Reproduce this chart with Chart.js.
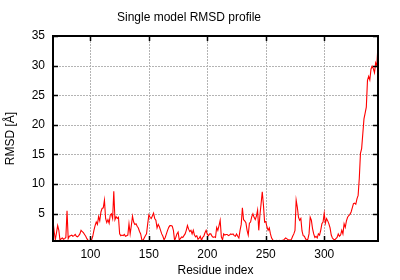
<!DOCTYPE html>
<html>
<head>
<meta charset="utf-8">
<script src="https://cdn.jsdelivr.net/npm/chart.js@4"></script>
<style>
html,body{margin:0;padding:0;background:#fff;}
#wrap{width:400px;height:280px;}
</style>
</head>
<body>
<div id="wrap"><canvas id="c" width="400" height="280"></canvas></div>
<script>
const titleText = "Single model RMSD profile";
const xLabel = "Residue index";
const yLabel = "RMSD [Å]";
const firstResidue = 68;
const xTicks = [100, 150, 200, 250, 300];
const yTicks = [5, 10, 15, 20, 25, 30, 35];
const rmsd = [
  3.8, 2.0, 0.6, 1.8, 3.0, 2.2, 0.5, 0.8, 0.9, 0.7,
  0.8, 1.0, 5.5, 0.8, 1.2, 1.3, 1.4, 1.2, 1.3, 1.5,
  1.2, 1.1, 1.3, 1.6, 2.2, 2.0, 1.8, 1.5, 1.2, 0.8,
  0.5, 0.4, 0.5, 0.6, 1.2, 2.2, 3.0, 3.6, 3.2, 4.5,
  3.8, 5.3, 5.9, 6.0, 7.3, 4.2, 3.5, 4.0, 3.4, 4.8,
  5.0, 4.2, 8.8, 4.0, 4.5, 4.2, 4.4, 1.6, 1.3, 1.4,
  1.3, 1.5, 1.2, 1.3, 1.4, 3.3, 1.6, 3.0, 4.6, 3.6,
  3.2, 3.3, 2.9, 2.6, 2.0, 1.6, 0.6, 0.5, 0.9, 1.3,
  1.6, 3.3, 4.8, 4.4, 4.2, 4.6, 5.1, 4.2, 3.9, 2.6,
  3.2, 2.8, 2.2, 1.6, 1.2, 0.6, 1.0, 1.6, 2.2, 2.7,
  3.0, 3.0, 2.9, 2.2, 0.5, 1.0, 1.6, 1.9, 0.6, 0.8,
  1.1, 1.0, 1.3, 1.6, 2.2, 3.0, 2.4, 2.0, 2.2, 1.6,
  2.2, 1.4, 1.1, 1.3, 0.7, 0.9, 1.2, 0.5, 1.0, 1.2,
  1.8, 2.2, 1.5, 1.3, 1.6, 1.6, 1.2, 1.0, 1.1, 1.0,
  2.7, 2.2, 3.0, 3.9, 1.1, 0.6, 1.6, 1.4, 1.5, 1.5,
  1.3, 1.4, 1.6, 1.5, 1.6, 1.3, 1.2, 1.6, 1.2, 0.9,
  2.2, 3.2, 6.0, 4.0, 3.8, 3.5, 2.2, 1.4, 3.4, 3.6,
  4.5, 5.0, 4.4, 4.0, 4.6, 5.6, 2.2, 4.8, 6.7, 8.7,
  6.5, 3.6, 3.7, 2.8, 2.2, 2.6, 1.6, 0.9, 0.6, 0.4,
  0.4, 0.5, 0.4, 0.4, 0.5, 0.4, 0.5, 0.5, 0.7, 0.9,
  0.8, 0.6, 0.6, 0.5, 0.7, 1.2, 1.6, 2.2, 7.3, 6.1,
  4.4, 3.9, 4.2, 2.1, 1.3, 1.2, 0.8, 0.5, 0.7, 1.6,
  4.4, 3.9, 2.5, 1.6, 1.0, 1.2, 0.9, 1.6, 1.4, 2.2,
  3.3, 3.6, 5.1, 3.4, 4.2, 3.8, 3.3, 2.6, 1.4, 0.9,
  0.7, 0.6, 0.8, 1.0, 1.6, 1.2, 1.4, 2.2, 1.6, 3.3,
  2.7, 3.8, 4.4, 4.7, 4.9, 5.3, 6.0, 6.7, 6.8, 6.6,
  7.5, 8.1, 11.0, 15.2, 16.0, 18.5, 21.0, 22.0, 23.0, 27.5,
  28.2, 27.6, 29.4, 29.9, 29.5, 28.8, 30.5, 30.0, 33.5
];
const residues = rmsd.map((_, i) => firstResidue + i);
const points = rmsd.map((v, i) => ({x: residues[i], y: v}));
const xMin = residues[0];
const xMax = residues[residues.length - 1];
const yMin = Math.min(...rmsd);
const yMax = 35;

const FONT = "'Liberation Sans', Arial, sans-serif";

const gridPlugin = {
  id: 'dotgrid',
  beforeDatasetsDraw(chart) {
    const {ctx, chartArea: a, scales: {x, y}} = chart;
    ctx.save();
    ctx.strokeStyle = '#b4b4b4';
    ctx.lineWidth = 1;
    ctx.setLineDash([2, 1]);
    ctx.beginPath();
    xTicks.forEach(t => {
      const px = Math.round(x.getPixelForValue(t)) + 0.5;
      ctx.moveTo(px, a.bottom); ctx.lineTo(px, a.top);
    });
    yTicks.forEach(t => {
      const py = Math.round(y.getPixelForValue(t)) + 0.5;
      ctx.moveTo(a.left, py); ctx.lineTo(a.right, py);
    });
    ctx.stroke();
    ctx.restore();
  },
  afterDatasetsDraw(chart) {
    const {ctx, chartArea: a, scales: {x, y}} = chart;
    ctx.save();
    ctx.strokeStyle = '#000';
    ctx.lineWidth = 1.5;
    const tl = 5;
    ctx.beginPath();
    xTicks.forEach(t => {
      const px = Math.round(x.getPixelForValue(t)) + 0.5;
      ctx.moveTo(px, a.bottom); ctx.lineTo(px, a.bottom - tl);
      ctx.moveTo(px, a.top); ctx.lineTo(px, a.top + tl);
    });
    yTicks.forEach(t => {
      const py = Math.round(y.getPixelForValue(t)) + 0.5;
      ctx.moveTo(a.left, py); ctx.lineTo(a.left + tl, py);
      ctx.moveTo(a.right, py); ctx.lineTo(a.right - tl, py);
    });
    ctx.stroke();
    ctx.lineWidth = 2;
    ctx.strokeRect(a.left, a.top, a.right - a.left, a.bottom - a.top);
    ctx.restore();
  }
};

new Chart(document.getElementById('c'), {
  type: 'line',
  data: {
    datasets: [{
      data: points,
      borderColor: '#ff0000',
      borderWidth: 1.1,
      pointRadius: 0,
      tension: 0,
      fill: false
    }]
  },
  options: {
    responsive: false,
    animation: false,
    layout: {padding: {left: 0, right: 22, top: 0, bottom: 0}},
    plugins: {
      legend: {display: false},
      tooltip: {enabled: false},
      title: {
        display: true,
        text: titleText,
        color: '#000',
        font: {family: FONT, size: 12, weight: 'normal'},
        padding: {top: 10, bottom: 11.6}
      }
    },
    scales: {
      x: {
        type: 'linear',
        min: xMin,
        max: xMax,
        afterBuildTicks(s) { s.ticks = xTicks.map(v => ({value: v})); },
        afterFit(s) { s.height = 39; },
        grid: {display: false, drawTicks: false},
        border: {display: false},
        ticks: {color: '#000', font: {family: FONT, size: 12}, padding: 6, maxRotation: 0, autoSkip: false},
        title: {display: true, text: xLabel, color: '#000', font: {family: FONT, size: 12}, padding: {top: 0, bottom: 2}}
      },
      y: {
        type: 'linear',
        min: yMin,
        max: yMax,
        afterBuildTicks(s) { s.ticks = yTicks.map(v => ({value: v})); },
        afterFit(s) { s.width = 53; },
        grid: {display: false, drawTicks: false},
        border: {display: false},
        ticks: {color: '#000', font: {family: FONT, size: 12}, padding: 8, autoSkip: false},
        title: {display: true, text: yLabel, color: '#000', font: {family: FONT, size: 12}, padding: {top: 3, bottom: 0}}
      }
    }
  },
  plugins: [gridPlugin]
});
</script>
</body>
</html>
